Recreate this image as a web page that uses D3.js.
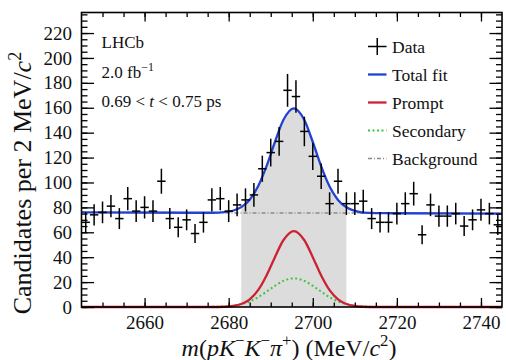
<!DOCTYPE html>
<html>
<head>
<meta charset="utf-8">
<script src="https://cdnjs.cloudflare.com/ajax/libs/d3/7.8.5/d3.min.js"></script>
<style>
body { margin: 0; background: #fff; }
svg { display: block; font-family: "Liberation Serif", "Times New Roman", serif; }
</style>
</head>
<body>
<script>
// Data //////////////////////////////////////////////

// bin centres (2 MeV bins) and candidate counts
var binCentres = [2646, 2648, 2650, 2652, 2654, 2656, 2658, 2660, 2662, 2664,
                  2666, 2668, 2670, 2672, 2674, 2676, 2678, 2680, 2682, 2684,
                  2686, 2688, 2690, 2692, 2694, 2696, 2698, 2700, 2702, 2704,
                  2706, 2708, 2710, 2712, 2714, 2716, 2718, 2720, 2722, 2724,
                  2726, 2728, 2730, 2732, 2734, 2736, 2738, 2740, 2742, 2744];
var counts = [68, 74, 76, 81, 71, 87, 77, 80, 77, 101,
              71, 64, 70, 59, 68, 86, 87, 77, 82, 86,
              90, 111, 124, 133, 174, 169, 141, 121, 105, 83,
              101, 83, 83, 85, 71, 68, 68, 75, 83, 91,
              58, 82, 73, 73, 75, 65, 70, 78, 75, 66];

// fit curves
var fitMass       = [2645, 2672, 2676, 2679, 2681, 2683, 2685, 2687, 2689, 2691, 2693, 2695.5, 2698, 2700, 2702, 2704, 2706, 2708, 2710, 2712, 2715, 2719, 2745];
var totalFit      = [76.0, 75.7, 75.7, 76.2, 77.3, 80.2, 86.1, 96.9, 113.1, 132.5, 150.1, 159.5, 150.1, 132.5, 113.0, 96.8, 86.0, 80.1, 77.2, 75.8, 75.4, 75.3, 75.0];
var promptFit     = [0, 0, 0, 0.2, 0.8, 2.4, 6.1, 13.5, 25.3, 40.0, 53.6, 61, 53.6, 40.0, 25.3, 13.5, 6.1, 2.4, 0.8, 0.2, 0, 0, 0];
var secondaryFit  = [0, 0, 0.1, 0.4, 1.0, 2.3, 4.5, 7.9, 12.3, 17.0, 21.0, 23, 21.0, 17.0, 12.3, 7.9, 4.5, 2.3, 1.0, 0.4, 0.1, 0, 0];
var backgroundFit = [76.0, 75.7, 75.6, 75.6, 75.5, 75.5, 75.5, 75.5, 75.5, 75.5, 75.5, 75.5, 75.5, 75.5, 75.4, 75.4, 75.4, 75.4, 75.4, 75.4, 75.3, 75.3, 75.0];

var signalWindow = [2683, 2708];

var xTicks = [2660, 2680, 2700, 2720, 2740];
var yTicks = [0, 20, 40, 60, 80, 100, 120, 140, 160, 180, 200, 220];
var legendLabels = ["Data", "Total fit", "Prompt", "Secondary", "Background"];

// SVG + Graph Setup //////////////////////////////////////////////

var margin = {top: 12.5, right: 4, bottom: 53, left: 81.5};
var width = 506 - margin.left - margin.right;
var height = 360 - margin.top - margin.bottom;

var colours = {total: "#2342d4", prompt: "#cc2233", secondary: "#3fc43f", background: "#8a8a8a", fill: "#dcdcdc"};

var root = d3.select("body")
			.append("svg")
				.attr("width", 506)
				.attr("height", 360);

var svg = root.append("g")
				.attr("transform", "translate(" + margin.left + "," + margin.top + ")");

var xScale = d3.scaleLinear()
		.domain([2645, 2745])
		.range([0, width]);

var yScale = d3.scaleLinear()
		.domain([0, 236.5])
		.range([height, 0]);

function fitPoints(values)
{
	return fitMass.map(function(m, i){ return {m: m, v: values[i]}; });
}

var line = d3.line()
		.x(function(d){ return xScale(d.m); })
		.y(function(d){ return yScale(d.v); })
		.curve(d3.curveMonotoneX);

// shaded signal window under total fit
root.append("defs").append("clipPath")
		.attr("id", "window")
	.append("rect")
		.attr("x", xScale(signalWindow[0]))
		.attr("y", 0)
		.attr("width", xScale(signalWindow[1]) - xScale(signalWindow[0]))
		.attr("height", height);

var area = d3.area()
		.x(function(d){ return xScale(d.m); })
		.y0(height)
		.y1(function(d){ return yScale(d.v); })
		.curve(d3.curveMonotoneX);

svg.append("path")
	.datum(fitPoints(totalFit))
	.attr("clip-path", "url(#window)")
	.attr("d", area)
	.attr("fill", colours.fill);

// fit components
svg.append("path")
	.datum(fitPoints(backgroundFit))
	.attr("d", line)
	.attr("fill", "none")
	.attr("stroke", colours.background)
	.attr("stroke-width", 1.5)
	.attr("stroke-dasharray", "4,2,1,2");

svg.append("path")
	.datum(fitPoints(secondaryFit))
	.attr("d", line)
	.attr("fill", "none")
	.attr("stroke", colours.secondary)
	.attr("stroke-width", 2)
	.attr("stroke-dasharray", "2,2.5");

svg.append("path")
	.datum(fitPoints(promptFit))
	.attr("d", line)
	.attr("fill", "none")
	.attr("stroke", colours.prompt)
	.attr("stroke-width", 2.3);

svg.append("path")
	.datum(fitPoints(totalFit))
	.attr("d", line)
	.attr("fill", "none")
	.attr("stroke", colours.total)
	.attr("stroke-width", 2.3);

// data points with errors
var points = svg.append("g")
		.attr("stroke", "#000")
		.attr("stroke-width", 1.5)
	.selectAll("g")
	.data(binCentres.map(function(m, i){ return {m: m, n: counts[i]}; }))
	.enter().append("g");

points.append("line")
	.attr("x1", function(d){ return xScale(d.m); })
	.attr("x2", function(d){ return xScale(d.m); })
	.attr("y1", function(d){ return yScale(d.n - Math.sqrt(d.n)); })
	.attr("y2", function(d){ return yScale(d.n + Math.sqrt(d.n)); });

points.append("line")
	.attr("x1", function(d){ return xScale(d.m - 1); })
	.attr("x2", function(d){ return xScale(d.m + 1); })
	.attr("y1", function(d){ return yScale(d.n); })
	.attr("y2", function(d){ return yScale(d.n); });

// Axes //////////////////////////////////////////////

function styleAxis(g)
{
	g.select(".domain").remove();
	g.selectAll(".tick line").attr("stroke", "#000").attr("stroke-width", 1.3);
	g.selectAll("text").attr("font-size", 19).attr("fill", "#111").attr("font-family", "Liberation Serif, serif");
}

var minorX = d3.range(2650, 2745, 5);
var minorY = d3.range(0, 236, 5);

svg.append("g").attr("transform", "translate(0," + height + ")")
	.call(d3.axisBottom(xScale).tickValues(minorX).tickSize(-4.5).tickFormat(""))
	.call(styleAxis);
svg.append("g").attr("transform", "translate(0," + height + ")")
	.call(d3.axisBottom(xScale).tickValues(xTicks).tickSize(-9).tickPadding(8.5).tickFormat(d3.format("d")))
	.call(styleAxis);
svg.append("g")
	.call(d3.axisTop(xScale).tickValues(minorX).tickSize(-4.5).tickFormat(""))
	.call(styleAxis);
svg.append("g")
	.call(d3.axisTop(xScale).tickValues(xTicks).tickSize(-9).tickFormat(""))
	.call(styleAxis);

svg.append("g")
	.call(d3.axisLeft(yScale).tickValues(minorY).tickSize(-6).tickFormat(""))
	.call(styleAxis);
svg.append("g")
	.call(d3.axisLeft(yScale).tickValues(yTicks).tickSize(-12.5).tickPadding(9.5).tickFormat(d3.format("d")))
	.call(styleAxis);
svg.append("g").attr("transform", "translate(" + width + ",0)")
	.call(d3.axisRight(yScale).tickValues(minorY).tickSize(-6).tickFormat(""))
	.call(styleAxis);
svg.append("g").attr("transform", "translate(" + width + ",0)")
	.call(d3.axisRight(yScale).tickValues(yTicks).tickSize(-12.5).tickFormat(""))
	.call(styleAxis);

svg.append("rect")
	.attr("width", width)
	.attr("height", height)
	.attr("fill", "none")
	.attr("stroke", "#000")
	.attr("stroke-width", 1.6);

// Text //////////////////////////////////////////////

// parts: [text, style] with style "" / "i" / "sup"
function richText(sel, parts, size)
{
	var shift = 0;
	parts.forEach(function(p)
	{
		var t = sel.append("tspan").text(p[0]);
		var target = p[1] === "sup" ? -size * 0.4 : 0;
		t.attr("dy", target - shift);
		shift = target;
		if (p[1] === "sup") t.attr("font-size", size * 0.7);
		if (p[1] === "i") t.attr("font-style", "italic");
	});
}

var xTitle = root.append("text")
		.attr("x", 289)
		.attr("y", 356)
		.attr("text-anchor", "middle")
		.attr("font-size", 24)
		.attr("fill", "#111");
richText(xTitle, [["m", "i"], ["(", ""], ["p", "i"], ["K", "i"], ["\u2212", "sup"], ["K", "i"], ["\u2212", "sup"], ["\u03c0", "i"], ["+", "sup"], [") (MeV/", ""], ["c", "i"], ["2", "sup"], [")", ""]], 24);

var yTitle = root.append("text")
		.attr("transform", "translate(31,183) rotate(-90)")
		.attr("text-anchor", "middle")
		.attr("font-size", 26)
		.attr("fill", "#111");
richText(yTitle, [["Candidates per 2 MeV/", ""], ["c", "i"], ["2", "sup"]], 26);

root.append("text")
	.attr("x", 101.5).attr("y", 48)
	.attr("font-size", 17).attr("fill", "#111")
	.text("LHCb");

var lumi = root.append("text")
	.attr("x", 101.5).attr("y", 78)
	.attr("font-size", 17).attr("fill", "#111");
richText(lumi, [["2.0 fb", ""], ["\u22121", "sup"]], 17);

var timeBin = root.append("text")
	.attr("x", 101.5).attr("y", 107)
	.attr("font-size", 17).attr("fill", "#111");
richText(timeBin, [["0.69 < ", ""], ["t", "i"], [" < 0.75 ps", ""]], 17);

// Legend //////////////////////////////////////////////

var legendStyles = [
	{stroke: "#000", width: 1.5, dash: null},
	{stroke: colours.total, width: 2.3, dash: null},
	{stroke: colours.prompt, width: 2.3, dash: null},
	{stroke: colours.secondary, width: 2, dash: "2,2.5"},
	{stroke: colours.background, width: 1.5, dash: "4,2,1,2"}
];

var legend = root.append("g")
	.selectAll("g")
	.data(legendLabels)
	.enter().append("g")
		.attr("transform", function(d, i){ return "translate(368," + (46.5 + i * 28) + ")"; });

legend.append("line")
	.attr("x1", 0).attr("x2", 18.5)
	.attr("y1", 0).attr("y2", 0)
	.attr("stroke", function(d, i){ return legendStyles[i].stroke; })
	.attr("stroke-width", function(d, i){ return legendStyles[i].width; })
	.attr("stroke-dasharray", function(d, i){ return legendStyles[i].dash; });

legend.filter(function(d, i){ return i === 0; })
	.append("line")
	.attr("x1", 9.25).attr("x2", 9.25)
	.attr("y1", -8.5).attr("y2", 8.5)
	.attr("stroke", "#000")
	.attr("stroke-width", 1.5);

legend.append("text")
	.attr("x", 24)
	.attr("dy", "0.35em")
	.attr("font-size", 17.5)
	.attr("fill", "#111")
	.text(function(d){ return d; });
</script>
</body>
</html>
